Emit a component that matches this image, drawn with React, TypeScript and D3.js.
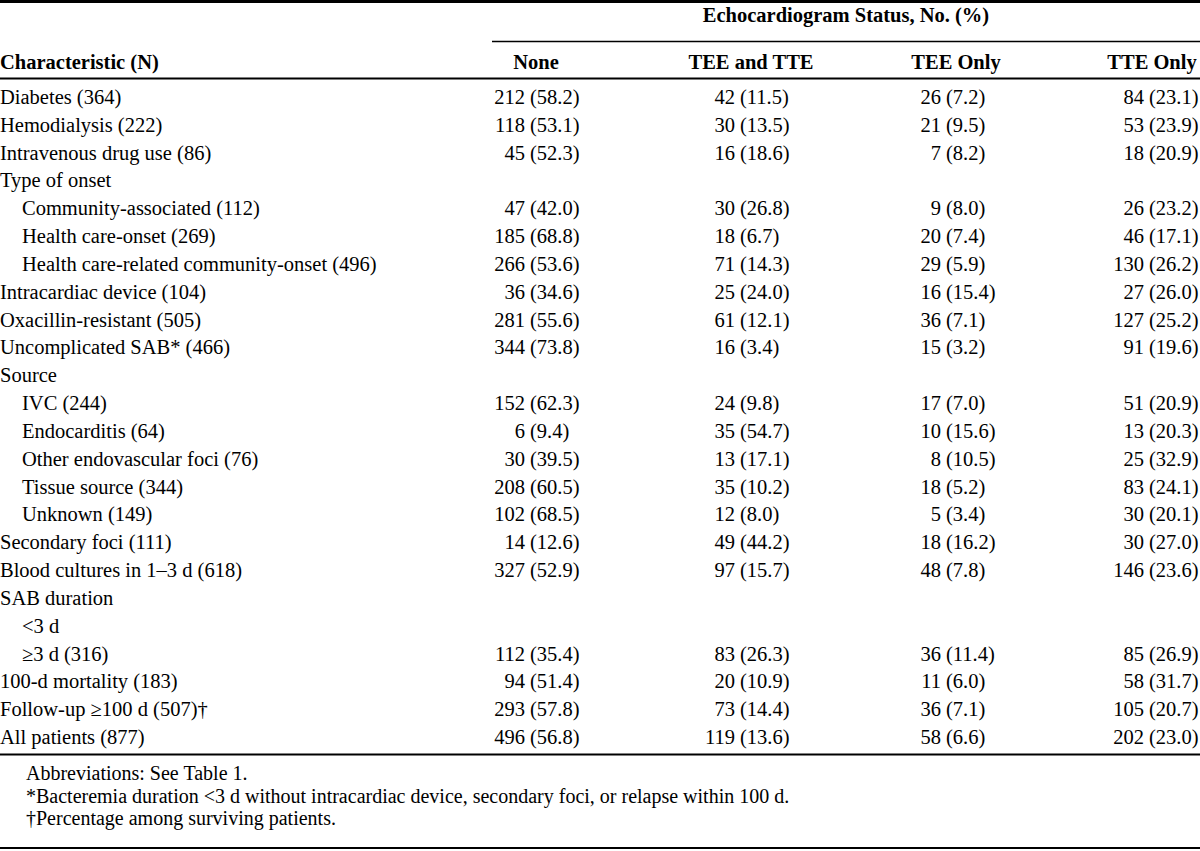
import React from "react";
import * as d3 from "d3";

const title = "Echocardiogram Status, No. (%)";
const firstHeader = "Characteristic (N)";
const columns = ["None", "TEE and TTE", "TEE Only", "TTE Only"];

const characteristics = [
  "Diabetes (364)",
  "Hemodialysis (222)",
  "Intravenous drug use (86)",
  "Type of onset",
  "Community-associated (112)",
  "Health care-onset (269)",
  "Health care-related community-onset (496)",
  "Intracardiac device (104)",
  "Oxacillin-resistant (505)",
  "Uncomplicated SAB* (466)",
  "Source",
  "IVC (244)",
  "Endocarditis (64)",
  "Other endovascular foci (76)",
  "Tissue source (344)",
  "Unknown (149)",
  "Secondary foci (111)",
  "Blood cultures in 1–3 d (618)",
  "SAB duration",
  "<3 d",
  "≥3 d (316)",
  "100-d mortality (183)",
  "Follow-up ≥100 d (507)†",
  "All patients (877)",
];

const indented = [0, 0, 0, 0, 1, 1, 1, 0, 0, 0, 0, 1, 1, 1, 1, 1, 0, 0, 0, 1, 1, 0, 0, 0];

const noneCol = ["212 (58.2)", "118 (53.1)", "45 (52.3)", "", "47 (42.0)", "185 (68.8)", "266 (53.6)", "36 (34.6)", "281 (55.6)", "344 (73.8)", "", "152 (62.3)", "6 (9.4)", "30 (39.5)", "208 (60.5)", "102 (68.5)", "14 (12.6)", "327 (52.9)", "", "", "112 (35.4)", "94 (51.4)", "293 (57.8)", "496 (56.8)"];
const teeTteCol = ["42 (11.5)", "30 (13.5)", "16 (18.6)", "", "30 (26.8)", "18 (6.7)", "71 (14.3)", "25 (24.0)", "61 (12.1)", "16 (3.4)", "", "24 (9.8)", "35 (54.7)", "13 (17.1)", "35 (10.2)", "12 (8.0)", "49 (44.2)", "97 (15.7)", "", "", "83 (26.3)", "20 (10.9)", "73 (14.4)", "119 (13.6)"];
const teeOnlyCol = ["26 (7.2)", "21 (9.5)", "7 (8.2)", "", "9 (8.0)", "20 (7.4)", "29 (5.9)", "16 (15.4)", "36 (7.1)", "15 (3.2)", "", "17 (7.0)", "10 (15.6)", "8 (10.5)", "18 (5.2)", "5 (3.4)", "18 (16.2)", "48 (7.8)", "", "", "36 (11.4)", "11 (6.0)", "36 (7.1)", "58 (6.6)"];
const tteOnlyCol = ["84 (23.1)", "53 (23.9)", "18 (20.9)", "", "26 (23.2)", "46 (17.1)", "130 (26.2)", "27 (26.0)", "127 (25.2)", "91 (19.6)", "", "51 (20.9)", "13 (20.3)", "25 (32.9)", "83 (24.1)", "30 (20.1)", "30 (27.0)", "146 (23.6)", "", "", "85 (26.9)", "58 (31.7)", "105 (20.7)", "202 (23.0)"];

const footnotes = [
  "Abbreviations: See Table 1.",
  "*Bacteremia duration <3 d without intracardiac device, secondary foci, or relapse within 100 d.",
  "†Percentage among surviving patients.",
];

const W = 1200;
const H = 851;
const FONT = "'Liberation Serif', 'Times New Roman', serif";
const FS = 20.5;

export default function App() {
  const colData = [noneCol, teeTteCol, teeOnlyCol, tteOnlyCol];
  const y = d3.scaleLinear().domain([0, characteristics.length - 1]).range([104, 104 + 27.83 * 23]);
  const parenX = d3.scaleOrdinal<string, number>().domain(columns).range([530, 740, 946, 1149]);
  const headerCenter = d3.scaleOrdinal<string, number>().domain(columns).range([536, 751, 956, 1152]);
  const fy = d3.scaleLinear().domain([0, 2]).range([780, 825]);

  return (
    <div style={{ position: "fixed", left: 0, top: 0 }}>
      <svg width={W} height={H} style={{ display: "block", background: "#fff" }} fontFamily={FONT}>
        <rect x={0} y={0} width={W} height={H} fill="#fff" />
        <line x1={0} x2={W} y1={1.5} y2={1.5} stroke="#000" strokeWidth={3} />
        <text x={846} y={22} textAnchor="middle" fontWeight="bold" fontSize={FS}>{title}</text>
        <line x1={492} x2={W} y1={41.5} y2={41.5} stroke="#000" strokeWidth={1.5} />
        <text x={0} y={69} fontWeight="bold" fontSize={FS}>{firstHeader}</text>
        {columns.map((c) => (
          <text key={c} x={headerCenter(c)} y={69} textAnchor="middle" fontWeight="bold" fontSize={FS}>{c}</text>
        ))}
        <line x1={0} x2={W} y1={78.5} y2={78.5} stroke="#000" strokeWidth={2} />
        {characteristics.map((c, i) => (
          <text key={"c" + i} x={indented[i] ? 22 : 0} y={y(i)} fontSize={FS}>{c}</text>
        ))}
        {columns.map((c, ci) =>
          colData[ci].map((v, ri) => {
            if (!v) return null;
            const sp = v.indexOf(" ");
            const n = v.slice(0, sp);
            const p = v.slice(sp + 1);
            const px = parenX(c);
            return (
              <g key={c + ri}>
                <text x={px - 5} y={y(ri)} textAnchor="end" fontSize={FS}>{n}</text>
                <text x={px} y={y(ri)} fontSize={FS}>{p}</text>
              </g>
            );
          })
        )}
        <line x1={0} x2={W} y1={754.5} y2={754.5} stroke="#000" strokeWidth={2} />
        {footnotes.map((f, i) => (
          <text key={"f" + i} x={26} y={fy(i)} fontSize={20}>{f}</text>
        ))}
        <line x1={0} x2={W} y1={848} y2={848} stroke="#000" strokeWidth={2} />
      </svg>
    </div>
  );
}
